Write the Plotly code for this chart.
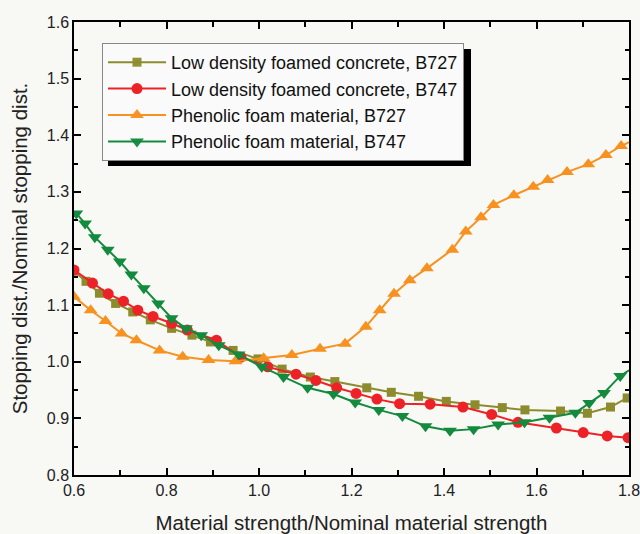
import plotly.graph_objects as go

# Low density foamed concrete, B727
x_ldc727 = [0.600, 0.626, 0.655, 0.690, 0.727, 0.765, 0.811, 0.855, 0.895, 0.944, 0.998, 1.050,
            1.111, 1.164, 1.233, 1.286, 1.345, 1.405, 1.467, 1.526, 1.575, 1.652, 1.710, 1.760, 1.796, 1.800]
y_ldc727 = [1.160, 1.142, 1.121, 1.103, 1.088, 1.074, 1.059, 1.047, 1.035, 1.020, 1.005, 0.987,
            0.973, 0.965, 0.954, 0.946, 0.939, 0.930, 0.924, 0.919, 0.915, 0.913, 0.909, 0.920, 0.936, 0.938]

# Low density foamed concrete, B747
x_ldc747 = [0.600, 0.640, 0.674, 0.707, 0.738, 0.771, 0.811, 0.845, 0.908, 0.961, 1.019, 1.080,
            1.123, 1.168, 1.210, 1.255, 1.304, 1.370, 1.441, 1.503, 1.560, 1.643, 1.701, 1.753, 1.798]
y_ldc747 = [1.162, 1.139, 1.120, 1.107, 1.091, 1.080, 1.068, 1.056, 1.038, 1.008, 0.991, 0.978,
            0.967, 0.954, 0.944, 0.934, 0.926, 0.925, 0.920, 0.907, 0.893, 0.883, 0.875, 0.869, 0.866]

# Phenolic foam material, B727
x_pf727 = [0.600, 0.636, 0.668, 0.703, 0.735, 0.785, 0.835, 0.891, 0.949, 1.010, 1.071, 1.132,
           1.186, 1.231, 1.261, 1.292, 1.326, 1.363, 1.418, 1.447, 1.480, 1.507, 1.551, 1.593,
           1.624, 1.666, 1.712, 1.750, 1.783, 1.800]
y_pf727 = [1.115, 1.091, 1.072, 1.050, 1.038, 1.020, 1.009, 1.003, 1.001, 1.006, 1.012, 1.023,
           1.032, 1.062, 1.091, 1.120, 1.144, 1.165, 1.198, 1.230, 1.255, 1.277, 1.294, 1.309,
           1.321, 1.335, 1.349, 1.365, 1.381, 1.388]

# Phenolic foam material, B747
x_pf747 = [0.605, 0.624, 0.645, 0.673, 0.699, 0.724, 0.751, 0.782, 0.811, 0.842, 0.875, 0.913,
           0.956, 1.006, 1.053, 1.105, 1.161, 1.208, 1.259, 1.310, 1.360, 1.413, 1.464, 1.517,
           1.574, 1.628, 1.684, 1.714, 1.746, 1.781, 1.800]
y_pf747 = [1.262, 1.244, 1.220, 1.198, 1.177, 1.154, 1.130, 1.103, 1.077, 1.059, 1.047, 1.029,
           1.013, 0.991, 0.973, 0.954, 0.943, 0.928, 0.915, 0.904, 0.886, 0.878, 0.881, 0.889,
           0.893, 0.901, 0.910, 0.927, 0.945, 0.975, 0.985]

names = ["Low density foamed concrete, B727", "Low density foamed concrete, B747",
         "Phenolic foam material, B727", "Phenolic foam material, B747"]

series = [
    (x_ldc727, y_ldc727, names[0], "#8c8c2e", "square", 9),
    (x_ldc747, y_ldc747, names[1], "#ec2227", "circle", 11),
    (x_pf727, y_pf727, names[2], "#f7911f", "triangle-up", 12),
    (x_pf747, y_pf747, names[3], "#138a3d", "triangle-down", 12),
]

fig = go.Figure()
for xs, ys, nm, col, sym, sz in series:
    n = len(xs)
    # the final point on the right boundary only extends the line; hide its marker
    hide_last = xs[-1] == 1.8 and xs[-2] > 1.77
    fig.add_trace(go.Scatter(x=xs, y=ys, name=nm, mode="lines+markers",
                             line=dict(color=col, width=2),
                             marker=dict(color=col, symbol=sym, size=sz,
                                         opacity=[1] * (n - 1) + ([0] if hide_last else [1]))))

font_family = "Liberation Sans, Arial, sans-serif"
L, R, T, B = 74, 11, 22, 59
W, H = 640, 534
pw, ph = W - L - R, H - T - B

def px_x(p):
    return (p - L) / pw

def px_y(p):
    return (H - B - p) / ph

# drop shadow behind the legend box
fig.add_shape(type="rect", xref="paper", yref="paper",
              x0=px_x(108), x1=px_x(471), y0=px_y(166), y1=px_y(49),
              fillcolor="black", line=dict(width=0), layer="above")

fig.update_layout(
    width=W, height=H,
    margin=dict(l=L, r=R, t=T, b=B, pad=0),
    paper_bgcolor="#f8f8f5", plot_bgcolor="#f8f8f5",
    font=dict(family=font_family, size=16, color="#222222"),
    showlegend=True,
    legend=dict(x=px_x(102), y=px_y(43), xanchor="left", yanchor="top",
                bgcolor="#fafafa", bordercolor="#888888", borderwidth=1,
                font=dict(size=18, color="#111111"), tracegroupgap=0,
                itemwidth=58),
    xaxis=dict(range=[0.6, 1.8], dtick=0.2, tick0=0.6, tickformat=".1f",
               ticks="inside", ticklen=7, tickwidth=1.5, tickcolor="black",
               showline=True, linecolor="black", linewidth=1.5, mirror="ticks",
               showgrid=False, zeroline=False, automargin=False,
               ticklabeloverflow="allow",
               minor=dict(dtick=0.1, ticks="inside", ticklen=5, tickwidth=1.5, tickcolor="black"),
               title=dict(text="Material strength/Nominal material strength", font=dict(size=20.5), standoff=18),
               tickfont=dict(size=16)),
    yaxis=dict(range=[0.8, 1.6], dtick=0.1, tick0=0.8, tickformat=".1f",
               ticks="inside", ticklen=7, tickwidth=1.5, tickcolor="black",
               showline=True, linecolor="black", linewidth=1.5, mirror="ticks",
               showgrid=False, zeroline=False, automargin=False,
               ticklabeloverflow="allow",
               minor=dict(dtick=0.05, ticks="inside", ticklen=4, tickwidth=1.5, tickcolor="black"),
               title=dict(text="Stopping dist./Nominal stopping dist.", font=dict(size=20.5), standoff=14),
               tickfont=dict(size=16)),
)

fig.write_html("out.html")
